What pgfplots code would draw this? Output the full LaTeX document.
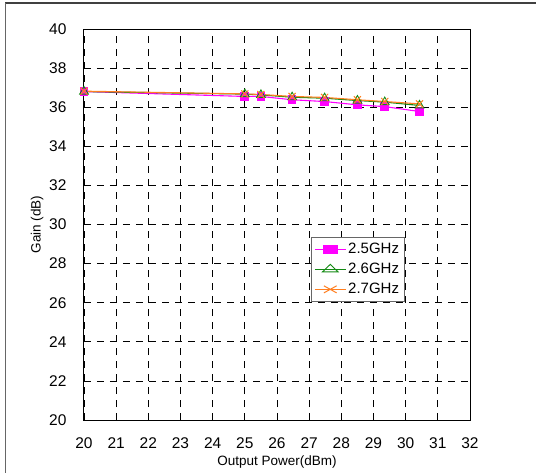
\documentclass[border=0pt]{standalone}
\usepackage{fontspec}
\setmainfont{Liberation Sans}
\usepackage{pgfplots}
\pgfplotsset{compat=1.18}
\definecolor{cmag}{HTML}{FF00FF}
\definecolor{cgreen}{HTML}{138A13}
\definecolor{corange}{HTML}{FF7F20}
\begin{document}
\begin{tikzpicture}[x=1pt,y=1pt]
\useasboundingbox (0,0) rectangle (536,472);
\draw[line width=2pt,black!75] (5,469) -- (540,469);
\draw[line width=1pt,black!60] (5,469) -- (5,-5);
\begin{axis}[
  at={(84pt,52pt)}, anchor=south west,
  width=386pt, height=391pt, scale only axis,
  xmin=20, xmax=32, ymin=20, ymax=40,
  xtick={20,21,...,32}, ytick={20,22,...,40},
  xtick pos=bottom, ytick pos=left, tick align=inside,
  major tick length=5pt,
  axis line style={line width=1pt},
  tick style={black, line width=0.8pt},
  grid=major,
  major grid style={black, line width=0.8pt, dash pattern=on 7pt off 6pt},
  /pgf/number format/assume math mode=true,
  ticklabel style={font=\fontsize{15.5}{18}\selectfont},
  xticklabel style={yshift=-14pt},
  yticklabel style={xshift=-14pt},
  xlabel={Output Power(dBm)},
  ylabel={Gain (dB)},
  label style={font=\fontsize{13.5}{16}\selectfont},
  xlabel style={yshift=0pt},
  ylabel style={yshift=-1pt},
  legend style={at={(axis description cs:0.588,0.468)}, anchor=north west,
    draw=black!60, line width=0.8pt, font=\fontsize{15}{17}\selectfont,
    row sep=4pt, inner xsep=3pt, inner ysep=4pt},
  legend cell align=left,
  legend image post style={xscale=1.8},
]
\addplot[cmag, line width=1.1pt, mark=square*, mark size=3.8pt, mark options={solid, fill=cmag}]
  coordinates {(20,36.80) (25,36.55) (25.5,36.55) (26.47,36.38) (27.48,36.29) (28.5,36.12) (29.35,36.03) (30.43,35.78)};
\addlegendentry{2.5GHz}
\addplot[cgreen, line width=1.1pt, mark=triangle, mark size=5pt, mark options={solid, fill=none, line width=0.9pt}]
  coordinates {(20,36.80) (25,36.67) (25.5,36.63) (26.47,36.51) (27.48,36.46) (28.5,36.34) (29.35,36.26) (30.43,36.09)};
\addlegendentry{2.6GHz}
\addplot[corange, line width=1.1pt, mark=x, mark size=5pt, mark options={solid, line width=1pt}]
  coordinates {(20,36.82) (25,36.68) (25.5,36.65) (26.47,36.55) (27.48,36.50) (28.5,36.38) (29.35,36.29) (30.43,36.17)};
\addlegendentry{2.7GHz}
\end{axis}
\end{tikzpicture}
\end{document}
